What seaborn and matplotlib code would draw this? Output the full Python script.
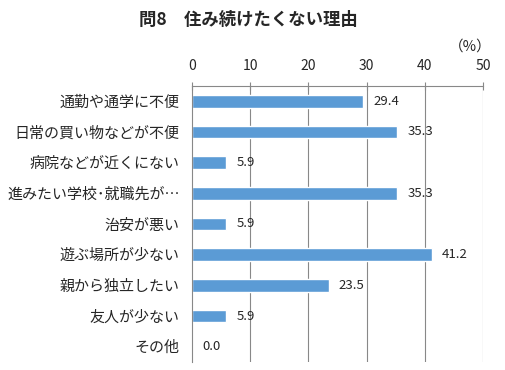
import numpy as np
import pandas as pd
import matplotlib
matplotlib.use("Agg")
import matplotlib.pyplot as plt
import seaborn as sns
from matplotlib.ticker import FixedLocator

# datos
razones = ["通勤や通学に不便", "日常の買い物などが不便", "病院などが近くにない",
           "進みたい学校･就職先が…", "治安が悪い", "遊ぶ場所が少ない",
           "親から独立したい", "友人が少ない", "その他"]
porcentajes = [29.4, 35.3, 5.9, 35.3, 5.9, 41.2, 23.5, 5.9, 0.0]
ticks_x = [0, 10, 20, 30, 40, 50]

sns.set_style("white")
plt.rcParams['font.family'] = ['Noto Sans CJK JP', 'DejaVu Sans']

df = pd.DataFrame({"razon": razones, "pct": porcentajes})

fig = plt.figure(figsize=(5.06, 3.70), dpi=100)
ax = fig.add_axes([192/506, 1 - 362/370, (483 - 192)/506, (362 - 86)/370])

sns.barplot(data=df, x="pct", y="razon", orient="h", color="#5B9BD5",
            width=0.42, saturation=1, ax=ax)

ax.set_xlim(0, 50)
ax.set_ylim(len(razones) - 0.5, -0.5)
ax.xaxis.tick_top()
ax.set_xticks(ticks_x)
ax.set_xticklabels([str(t) for t in ticks_x], fontsize=10)
ax.tick_params(axis="x", direction="inout", length=6, width=0.8, color="#888888", pad=6)
ax.tick_params(axis="y", length=0, labelsize=10.8, pad=9)
ax.yaxis.set_minor_locator(FixedLocator(np.arange(-0.5, len(razones), 1)))
ax.tick_params(axis="y", which="minor", length=5, width=0.8, color="#888888", direction="out")
ax.set_xlabel("")
ax.set_ylabel("")

for t in ticks_x[1:]:
    ax.axvline(t, color="#888888", lw=0.8, zorder=0)

for s in ["right", "bottom"]:
    ax.spines[s].set_visible(False)
for s in ["top", "left"]:
    ax.spines[s].set_color("#888888")
    ax.spines[s].set_linewidth(0.8)

for i, v in enumerate(porcentajes):
    ax.text(v + 1.7, i, f"{v:.1f}", va="center", ha="left", fontsize=9.5)

fig.text(248/506, 1 - 20/370, "問8　住み続けたくない理由", ha="center", va="center",
         fontsize=12.5, fontweight="bold")
fig.text(470/506, 1 - 47/370, "（%）", ha="center", va="center", fontsize=10.5)

fig.savefig("out.png", dpi=100)
